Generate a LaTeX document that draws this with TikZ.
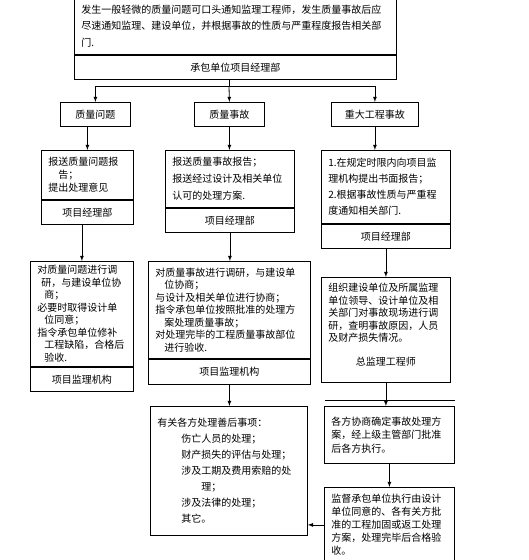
\documentclass[tikz,border=0pt]{standalone}
\usepackage{fontspec}
\setmainfont{Noto Sans CJK SC}
\usetikzlibrary{positioning}

\begin{document}
\begin{tikzpicture}[>=latex, x=1pt, y=-1pt, line width=0.8pt,
	font=\fontsize{10}{12.5}\selectfont,
	box/.style={draw, anchor=north west, align=left, inner xsep=7pt, inner ysep=2pt},
	tag/.style={draw, inner sep=0pt, minimum height=24pt},
	kind/.style={draw, anchor=north west, inner sep=0pt, minimum height=24pt}]
	\useasboundingbox (0,0) rectangle (528,560);
	\path
	(74,-3)   node[box,text width=308pt,minimum height=57pt,font=\fontsize{10}{16.5}\selectfont] (top)
	{发生一般轻微的质量问题可口头通知监理工程师，发生质量事故后应\\尽速通知监理、建设单位，并根据事故的性质与严重程度报告相关部\\门.}
	node[tag,minimum width=322pt,below=0pt of top] (topt) {承包单位项目经理部}
	(60,102)  node[kind,minimum width=70pt] (q1) {质量问题}
	(194,102) node[kind,minimum width=70pt] (q2) {质量事故}
	(331,102) node[kind,minimum width=87pt] (q3) {重大工程事故}
	(41,150)  node[box,text width=78pt,minimum height=49pt,font=\fontsize{10}{13}\selectfont] (b1)
	{报送质量问题报\\\hspace*{10pt}告；\\提出处理意见}
	node[tag,minimum width=92pt,below=0pt of b1] (b1t) {项目经理部}
	(165,150) node[box,text width=115pt,minimum height=57pt,font=\fontsize{10}{17}\selectfont] (b2)
	{报送质量事故报告；\\报送经过设计及相关单位\\认可的处理方案.}
	node[tag,minimum width=129pt,below=0pt of b2] (b2t) {项目经理部}
	(321,150) node[box,text width=115pt,minimum height=73pt,font=\fontsize{10}{16}\selectfont] (b3)
	{1.在规定时限内向项目监\\理机构提出书面报告；\\2.根据事故性质与严重程\\度通知相关部门.}
	node[tag,minimum width=129pt,below=0pt of b3] (b3t) {项目经理部}
	(30,261)  node[box,text width=89pt,minimum height=105pt] (c1)
	{对质量问题进行调\\\hspace*{4pt}研，与建设单位协\\\hspace*{7pt}商；\\必要时取得设计单\\\hspace*{7pt}位同意；\\指令承包单位修补\\\hspace*{7pt}工程缺陷，合格后\\\hspace*{7pt}验收.}
	node[tag,minimum width=103pt,below=0pt of c1] (c1t) {项目监理机构}
	(148,261) node[box,text width=148pt,minimum height=97pt] (c2)
	{对质量事故进行调研，与建设单\\\hspace*{9pt}位协商；\\与设计及相关单位进行协商；\\指令承包单位按照批准的处理方\\\hspace*{9pt}案处理质量事故；\\对处理完毕的工程质量事故部位\\\hspace*{9pt}进行验收.}
	node[tag,minimum width=162pt,minimum height=25pt,below=0pt of c2] (c2t) {项目监理机构}
	(321,277) node[box,text width=115pt,minimum height=105pt] (c3)
	{组织建设单位及所属监理\\单位领导、设计单位及相\\关部门对事故现场进行调\\研，查明事故原因，人员\\及财产损失情况。\\[11.5pt]\makebox[115pt]{总监理工程师}\\[-2pt]\mbox{}}
	(150,406) node[box,text width=143pt,minimum height=129pt,font=\fontsize{10}{16}\selectfont] (d1)
	{有关各方处理善后事项：\\\hspace*{24pt}伤亡人员的处理；\\\hspace*{24pt}财产损失的评估与处理；\\\hspace*{24pt}涉及工期及费用索赔的处\\\hspace*{44pt}理；\\\hspace*{24pt}涉及法律的处理；\\\hspace*{24pt}其它。}
	(324,406) node[box,text width=116pt,minimum height=57pt,font=\fontsize{10}{13.5}\selectfont] (d2)
	{各方协商确定事故处理方\\案，经上级主管部门批准\\后各方执行。}
	(324,487) node[box,text width=116pt,minimum height=75pt,font=\fontsize{10}{13}\selectfont] (d3)
	{监督承包单位执行由设计\\单位同意的、各有关方批\\准的工程加固或返工处理\\方案，处理完毕后合格验\\收。};
	\coordinate (fork) at (229,86);
	\draw (topt.south -| fork) -- (fork);
	\draw[->] (fork) -- (q2.north);
	\draw[->] (fork) -| (q1.north);
	\draw[->] (fork) -| (q3.north);
	\draw[->] (q1.south -| b1.north) -- (b1.north);
	\draw[->] (q2.south) -- (q2.south |- b2.north);
	\draw[->] (q3.south) -- (q3.south |- b3.north);
	\draw[->] (b1t.south -| c1.north) -- (c1.north);
	\draw[->] (b2t.south) -- (b2t.south |- c2.north);
	\draw[->] (b3t.south) -- (b3t.south |- c3.north);
	\draw[->] (c2t.south) -- (c2t.south |- d1.north);
	\draw[->] (c3.south) -- (c3.south |- d2.north);
	\draw[->] (d2.south) -- (d2.south |- d3.north);
	\draw[->] (d3.west) -- (d3.west -| d1.east);
	\draw (325,400) -- (455,400);
\end{tikzpicture}
\end{document}
